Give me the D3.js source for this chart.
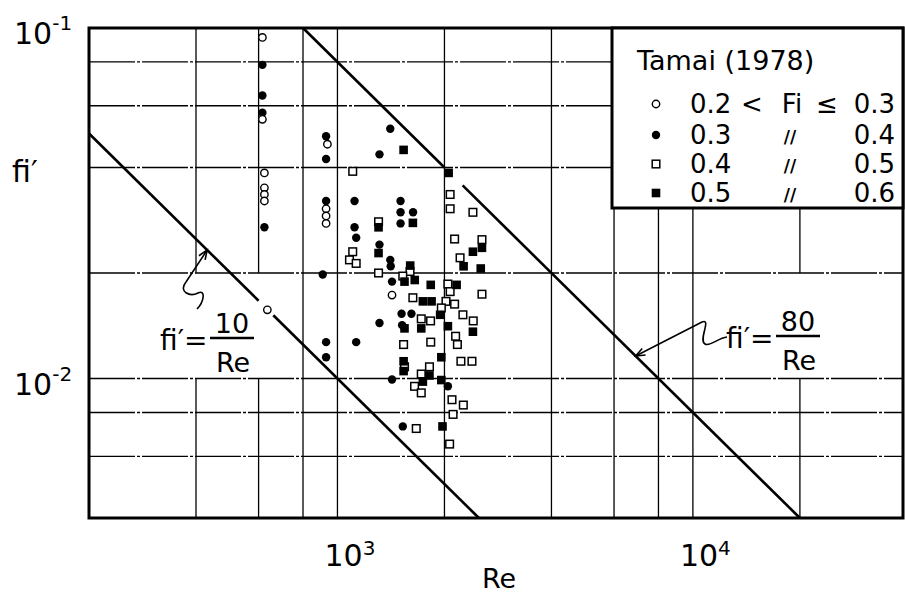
<!DOCTYPE html>
<html>
<head>
<meta charset="utf-8">
<script src="https://cdn.jsdelivr.net/npm/d3@7"></script>
<style>
  body { margin: 0; background: #fff; }
  svg { display: block; }
  text { font-family: "DejaVu Sans", sans-serif; fill: #000; }
</style>
</head>
<body>
<svg id="chart" width="905" height="596"></svg>
<script>
// Interfacial friction factor fi' against Reynolds number Re, Tamai (1978).
// Each pair is [Re, fi'], grouped by densimetric Froude number class.
const fiClassA = [ // 0.2 < Fi <= 0.3
  [615, 0.094], [615, 0.0549], [623, 0.0386], [623, 0.0350], [623, 0.0335], [623, 0.0321],
  [937, 0.0466], [929, 0.0305], [929, 0.0291], [929, 0.0277], [1424, 0.0173], [635, 0.0157]
];
const fiClassB = [ // 0.3 < Fi <= 0.4
  [615, 0.0785], [615, 0.0642], [615, 0.0573], [623, 0.0270], [929, 0.0491], [929, 0.0423],
  [929, 0.0321], [909, 0.0198], [929, 0.0127], [929, 0.0115], [1117, 0.0321], [1117, 0.0270],
  [1129, 0.0252], [1129, 0.0127], [1408, 0.0516], [1313, 0.0436], [1505, 0.0321], [1505, 0.0298],
  [1632, 0.0298], [1505, 0.0277], [1313, 0.0241], [1408, 0.0218], [1412, 0.0209], [1424, 0.0189],
  [1515, 0.0153], [1615, 0.0153], [1313, 0.0144], [1520, 0.0142], [1424, 0.00994], [1527, 0.0073],
  [2045, 0.0095]
];
const fiClassC = [ // 0.4 < Fi <= 0.5
  [1104, 0.0390], [1305, 0.0280], [1104, 0.0230], [1081, 0.0218], [1129, 0.0213], [1305, 0.0200],
  [1600, 0.0202], [1527, 0.0196], [2075, 0.0335], [2075, 0.0305], [2405, 0.0298], [2136, 0.0250],
  [2550, 0.0249], [2213, 0.0221], [2045, 0.0186], [2550, 0.0174], [2075, 0.0177], [2136, 0.0163],
  [2254, 0.0152], [2410, 0.0146], [2150, 0.0132], [2175, 0.0125], [2225, 0.0112], [2390, 0.0112],
  [2100, 0.0087], [2260, 0.0084], [2115, 0.0079], [2068, 0.0065], [1630, 0.0170], [2020, 0.0166],
  [1960, 0.0159], [1721, 0.0148], [1828, 0.0146], [1535, 0.0125], [1830, 0.0127], [1544, 0.0108],
  [1815, 0.0108], [1721, 0.0103], [1648, 0.0095], [1721, 0.0091], [1666, 0.0072]
];
const fiClassD = [ // 0.5 < Fi <= 0.6
  [1535, 0.0449], [1305, 0.0270], [1630, 0.0278], [1305, 0.0228], [1602, 0.0210], [1650, 0.0191],
  [1544, 0.0189], [1830, 0.0185], [1739, 0.0166], [1840, 0.0166], [1945, 0.0152], [2045, 0.0141],
  [1544, 0.0139], [1721, 0.0139], [1960, 0.0115], [1535, 0.0112], [1535, 0.0105], [1815, 0.0102],
  [1739, 0.0098], [1960, 0.0099], [1975, 0.0073], [2055, 0.0386], [2405, 0.0230], [2550, 0.0236],
  [2264, 0.0209], [2530, 0.0206], [2164, 0.0185], [2405, 0.0136]
];

// Legend rows: lower bound, relation, upper bound
const classLow = ["0.2", "0.3", "0.4", "0.5"];
const classHigh = ["0.3", "0.4", "0.5", "0.6"];
const classSymbols = ["openCircle", "filledCircle", "openSquare", "filledSquare"];

// Reference laws fi' = C / Re, drawn over these Re spans
const lawCoef = [10, 80];
const lawSpans = [
  [[200, 600], [660, 2500]],
  [[800, 2000], [2250, 20000]]
];

// Grid and tick values
const xGrid = [400, 600, 800, 1000, 2000, 4000, 6000, 8000, 10000, 20000];
const yGrid = [0.08, 0.06, 0.04, 0.02, 0.01, 0.008, 0.006];
const xTickVals = [1000, 10000];
const xTickExp = ["3", "4"];
const yTickVals = [0.1, 0.01];
const yTickExp = ["-1", "-2"];

const svg = d3.select("#chart");
const x = d3.scaleLog().domain([200, 39000]).range([89, 903]);
const y = d3.scaleLog().domain([0.004, 0.1]).range([518, 28]);
const [xl, xr] = x.range();
const [yb, yt] = y.range();

// vertical grid lines, some left open where the law labels sit
const xGridGaps = { 400: [0.01, 0.02], 600: [0.01, 0.02], 20000: [0.01, 0.02] };
const grid = svg.append("g").attr("stroke", "#000").attr("stroke-width", 1.3);
xGrid.forEach(v => {
  const gap = xGridGaps[v];
  const segs = gap ? [[0.004, gap[0]], [gap[1], 0.1]] : [[0.004, 0.1]];
  segs.forEach(s => grid.append("line")
    .attr("x1", x(v)).attr("x2", x(v)).attr("y1", y(s[0])).attr("y2", y(s[1])));
});
yGrid.forEach(v => grid.append("line")
  .attr("x1", xl).attr("x2", xr).attr("y1", y(v)).attr("y2", y(v))
  .attr("stroke-dasharray", "46,2,3,2"));

// reference laws
const lawLine = d3.line().x(d => x(d[0])).y(d => y(d[1]));
lawCoef.forEach((c, i) => {
  lawSpans[i].forEach(span => {
    svg.append("path")
      .attr("d", lawLine(span.map(re => [re, c / re])))
      .attr("fill", "none").attr("stroke", "#000").attr("stroke-width", 2.6);
  });
});

// markers
function drawMarker(g, kind, cx, cy) {
  if (kind === "openCircle") {
    g.append("circle").attr("cx", cx).attr("cy", cy).attr("r", 3.7)
      .attr("fill", "#fff").attr("stroke", "#000").attr("stroke-width", 1.4);
  } else if (kind === "filledCircle") {
    g.append("circle").attr("cx", cx).attr("cy", cy).attr("r", 4.2).attr("fill", "#000");
  } else if (kind === "openSquare") {
    g.append("rect").attr("x", cx - 3.8).attr("y", cy - 3.8).attr("width", 7.6).attr("height", 7.6)
      .attr("fill", "#fff").attr("stroke", "#000").attr("stroke-width", 1.5);
  } else {
    g.append("rect").attr("x", cx - 4.3).attr("y", cy - 4.3).attr("width", 8.6).attr("height", 8.6)
      .attr("fill", "#000");
  }
}
const pts = svg.append("g");
[[fiClassC, "openSquare"], [fiClassD, "filledSquare"], [fiClassB, "filledCircle"], [fiClassA, "openCircle"]]
  .forEach(([data, kind]) => data.forEach(d => drawMarker(pts, kind, x(d[0]), y(d[1]))));

// frame
svg.append("rect").attr("x", xl).attr("y", yt).attr("width", xr - xl).attr("height", yb - yt)
  .attr("fill", "none").attr("stroke", "#000").attr("stroke-width", 3);

// tick labels
xTickVals.forEach((v, i) => {
  const t = svg.append("text").attr("x", x(v) - 13).attr("y", 566).attr("font-size", 30);
  t.append("tspan").text("10");
  t.append("tspan").attr("dy", -11).attr("font-size", 20).text(xTickExp[i]);
});
yTickVals.forEach((v, i) => {
  const t = svg.append("text").attr("x", 14).attr("y", y(v) + 16).attr("font-size", 30);
  t.append("tspan").text("10");
  t.append("tspan").attr("dy", -14).attr("font-size", 20).text(yTickExp[i]);
});

// axis titles
svg.append("text").attr("x", 499).attr("y", 588).attr("text-anchor", "middle")
  .attr("font-size", 27).text("Re");
svg.append("text").attr("x", 12).attr("y", 182).attr("font-size", 30).text("fi′");

// law labels with leaders
function arrowHead(tip, from) {
  const a = Math.atan2(from[1] - tip[1], from[0] - tip[0]);
  const L = 10, s = 0.38;
  return `M${tip[0] + L * Math.cos(a - s)},${tip[1] + L * Math.sin(a - s)} L${tip[0]},${tip[1]} L${tip[0] + L * Math.cos(a + s)},${tip[1] + L * Math.sin(a + s)}`;
}
function lawLabel(num, fx, fy, fracX, leader, tip, from) {
  const g = svg.append("g");
  g.append("text").attr("x", fx).attr("y", fy).attr("font-size", 28).text("fi′=");
  g.append("text").attr("x", fracX).attr("y", fy - 17).attr("text-anchor", "middle")
    .attr("font-size", 27).text(num);
  g.append("line").attr("x1", fracX - 22).attr("x2", fracX + 22).attr("y1", fy - 12).attr("y2", fy - 12)
    .attr("stroke", "#000").attr("stroke-width", 2.4);
  g.append("text").attr("x", fracX + 1).attr("y", fy + 22).attr("text-anchor", "middle")
    .attr("font-size", 27).text("Re");
  g.append("path").attr("d", leader).attr("fill", "none").attr("stroke", "#000").attr("stroke-width", 1.6);
  g.append("path").attr("d", arrowHead(tip, from)).attr("fill", "none").attr("stroke", "#000").attr("stroke-width", 1.6);
}
const tip10 = [x(430), y(10 / 430)];
lawLabel("10", 160, 350, 232,
  `M${tip10[0]},${tip10[1]} L186,282 C178,292 190,297 198,293 C206,289 204,302 197,309`,
  tip10, [186, 282]);
const tip80 = [x(6900), y(80 / 6900)];
lawLabel("80", 726, 348, 798,
  `M${tip80[0]},${tip80[1]} L702,322 C712,318 698,340 705,344 C710,347 718,338 727,337`,
  tip80, [702, 322]);

// legend
const lgW = 291, lgH = 180;
const lg = svg.append("g").attr("transform", `translate(${xr - lgW},${yt})`);
lg.append("rect").attr("width", lgW).attr("height", lgH).attr("fill", "#fff")
  .attr("stroke", "#000").attr("stroke-width", 3);
lg.append("text").attr("x", 25).attr("y", 42).attr("font-size", 27).text("Tamai (1978)");
const rowBase = [85, 116, 145, 174];
classLow.forEach((lo, i) => {
  const by = rowBase[i];
  drawMarker(lg, classSymbols[i], 44, by - 9);
  lg.append("text").attr("x", 78).attr("y", by).attr("font-size", 26).text(lo);
  lg.append("text").attr("x", 283).attr("y", by).attr("text-anchor", "end").attr("font-size", 26).text(classHigh[i]);
  if (i === 0) {
    lg.append("text").attr("x", 140).attr("y", by).attr("text-anchor", "middle").attr("font-size", 26).text("<");
    lg.append("text").attr("x", 180).attr("y", by).attr("text-anchor", "middle").attr("font-size", 26).text("Fi");
    lg.append("text").attr("x", 215).attr("y", by).attr("text-anchor", "middle").attr("font-size", 26).text("≤");
  } else {
    lg.append("text").attr("x", 178).attr("y", by - 1).attr("text-anchor", "middle")
      .attr("font-size", 17).attr("font-weight", "bold").text("//");
  }
});
</script>
</body>
</html>
